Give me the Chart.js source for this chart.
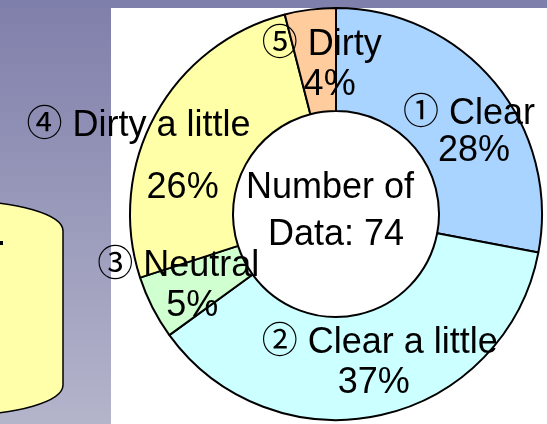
<!DOCTYPE html>
<html>
<head>
<meta charset="utf-8">
<script src="https://cdn.jsdelivr.net/npm/chart.js@4/dist/chart.umd.min.js"></script>
<style>
    html, body { margin: 0; padding: 0; }
    body {
        width: 547px;
        height: 424px;
        overflow: hidden;
        position: relative;
        background: linear-gradient(#7f7fab, #b4b4cb);
    }
    #panel {
        position: absolute;
        left: 111px;
        top: 8px;
        width: 436px;
        height: 416px;
        background: #fff;
    }
    #deco { position: absolute; left: 0; top: 0; }
    #wrap {
        position: absolute;
        left: 0;
        top: 0;
        width: 547px;
        height: 424px;
    }
</style>
</head>
<body>
<svg id="deco" width="547" height="424">
    <path d="M -143 231 A 103 30 0 0 1 63 231 L 63 385 A 103 30 0 0 1 -143 385 Z"
          fill="#ffffaa" stroke="#000" stroke-width="1.5"/>
    <rect x="0" y="241" width="3" height="4" fill="#000"/>
</svg>
<div id="panel"></div>
<div id="wrap"><canvas id="chart"></canvas></div>
<script>
// Slice data
const categories = ['① Clear', '② Clear a little', '③ Neutral', '④ Dirty a little', '⑤ Dirty'];
const percentValues = [28, 37, 5, 26, 4];
const percentLabels = ['28%', '37%', '5%', '26%', '4%'];
const centerText = ['Number of', 'Data: 74'];

const sliceColors = ['#a9d4ff', '#ccffff', '#d0ffd0', '#ffffa8', '#ffcc9e'];

// Label line offsets from each slice's middle point: [dx, dy] for name, [dx, dy] for percent
const labelOffsets = [
    [[14, 8], [19, 45]],
    [[10, -12], [4, 28]],
    [[-20, -8], [-6, 32]],
    [[-62, -4], [-18, 58]],
    [[5, -6], [13, 34]]
];
const centerOffsets = [[-6, -16], [0, 31]];

// circled digits fall back to the CJK font, which draws them at full width
const FONT = "36px 'Liberation Sans', 'Noto Sans CJK JP', sans-serif";

const sliceLabels = {
    id: 'sliceLabels',
    afterDatasetsDraw(chart) {
        const ctx = chart.ctx;
        const meta = chart.getDatasetMeta(0);
        ctx.save();
        ctx.font = FONT;
        ctx.fillStyle = '#000';
        ctx.textAlign = 'center';
        ctx.textBaseline = 'alphabetic';

        meta.data.forEach((arc, i) => {
            const p = arc.getCenterPoint();
            const [nameOff, pctOff] = labelOffsets[i];
            ctx.fillText(categories[i], p.x + nameOff[0], p.y + nameOff[1]);
            ctx.fillText(percentLabels[i], p.x + pctOff[0], p.y + pctOff[1]);
        });

        // Text in the hole
        const arc0 = meta.data[0];
        centerText.forEach((line, i) => {
            ctx.fillText(line, arc0.x + centerOffsets[i][0], arc0.y + centerOffsets[i][1]);
        });
        ctx.restore();
    }
};

new Chart(document.getElementById('chart'), {
    type: 'doughnut',
    data: {
        labels: categories,
        datasets: [{
            data: percentValues,
            backgroundColor: sliceColors,
            borderColor: '#000',
            borderWidth: 2
        }]
    },
    options: {
        responsive: true,
        maintainAspectRatio: false,
        animation: false,
        cutout: '50%',
        layout: {
            padding: { left: 128, right: 3, top: 7, bottom: 3 }
        },
        plugins: {
            legend: { display: false },
            tooltip: { enabled: false }
        }
    },
    plugins: [sliceLabels]
});
</script>
</body>
</html>
